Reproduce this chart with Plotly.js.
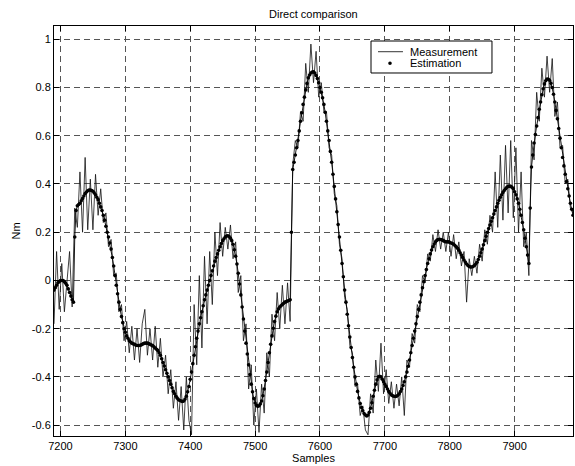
<!DOCTYPE html>
<html><head><meta charset="utf-8">
<script src="https://cdn.plot.ly/plotly-3.0.1.min.js"></script>
<style>html,body{margin:0;padding:0;background:#fff;}#chart{width:575px;height:466px;}</style>
</head><body><div id="chart"></div>
<script>
const firstSample = 7190;
const measurementStep = 4;
const estimationStep = 2;

const measurement = [
 -0.18, 0.12, -0.12, 0.07, -0.13, -0.02, 0.12, -0.11, 0.30,
 0.22, 0.45, 0.20, 0.51, 0.21, 0.42, 0.21, 0.44, 0.27, 0.38,
 0.24, 0.28, 0.14, 0.17, 0.02, 0.03, -0.13, -0.10, -0.25, -0.17,
 -0.30, -0.19, -0.33, -0.20, -0.34, -0.18, -0.12, -0.31, -0.20, -0.33, -0.19, -0.36,
 -0.24, -0.40, -0.31, -0.47, -0.37, -0.53, -0.42, -0.58, -0.44, -0.62, -0.40, -0.58,
 -0.64, -0.10, -0.35, 0.02, -0.28, 0.10, -0.18, 0.12, -0.10, 0.20, 0.02, 0.24, 0.10, 0.22,
 0.13, 0.23, 0.09, 0.16, -0.05, 0.02, -0.25, -0.18, -0.45, -0.35, -0.60,
 -0.45, -0.63, -0.43, -0.55, -0.30, -0.40, -0.14, -0.25, -0.05, -0.20, -0.02, -0.18, -0.01, -0.17,
 0.48, 0.58, 0.55, 0.70, 0.66, 0.90, 0.78, 0.98, 0.82, 0.95, 0.76,
 0.82, 0.70, 0.70, 0.55, 0.52, 0.36, 0.31, 0.15, 0.09, -0.07, -0.12, -0.27, -0.30, -0.44, -0.43, -0.56, -0.52, -0.62,
 -0.64, -0.47, -0.55, -0.33, -0.46, -0.26, -0.47, -0.37, -0.51, -0.42, -0.53, -0.43, -0.52, -0.40, -0.56, -0.33, -0.36,
 -0.22, -0.26, -0.10, -0.13, 0.02, -0.01, 0.11, 0.08, 0.19, 0.12,
 0.21, 0.13, 0.20, 0.12, 0.20, 0.10, 0.19, 0.09, 0.16, 0.06,
 0.12, -0.09, 0.09, 0.02, 0.10, 0.03, 0.15, 0.08, 0.21, 0.15,
 0.27, 0.20, 0.45, 0.22, 0.52, 0.25, 0.56, 0.28, 0.58, 0.26,
 0.55, 0.20, 0.45, 0.14, 0.20, 0.02,
 0.58, 0.50, 0.78, 0.66, 0.88, 0.76, 0.93, 0.78, 0.92, 0.68, 0.74, 0.55, 0.56, 0.40, 0.42, 0.30, 0.28
];

const estimation = [
 -0.04, -0.03, -0.02, -0.01, -0.005, 0.0, 0.0, 0.0, -0.005, -0.012,
 -0.02, -0.035, -0.05, -0.065, -0.08, -0.09, 0.18, 0.29, 0.31, 0.315,
 0.32, 0.33, 0.34, 0.35, 0.36, 0.367, 0.372, 0.375, 0.375, 0.373,
 0.37, 0.363, 0.355, 0.345, 0.335, 0.32, 0.305, 0.29, 0.27, 0.25,
 0.225, 0.2, 0.18, 0.155, 0.13, 0.095, 0.06, 0.02, -0.02, -0.055,
 -0.09, -0.12, -0.15, -0.175, -0.20, -0.215, -0.23, -0.24, -0.25, -0.255,
 -0.26, -0.263, -0.265, -0.268, -0.27, -0.27, -0.27, -0.268, -0.265, -0.262,
 -0.26, -0.26, -0.26, -0.262, -0.265, -0.268, -0.27, -0.275, -0.28, -0.285,
 -0.29, -0.3, -0.31, -0.325, -0.34, -0.355, -0.37, -0.385, -0.40, -0.415,
 -0.43, -0.445, -0.46, -0.47, -0.48, -0.488, -0.495, -0.498, -0.50, -0.502,
 -0.50, -0.492, -0.48, -0.462, -0.44, -0.41, -0.38, -0.345, -0.31, -0.275,
 -0.24, -0.21, -0.18, -0.155, -0.13, -0.105, -0.08, -0.06, -0.04, -0.02,
 0.0, 0.02, 0.04, 0.06, 0.08, 0.095, 0.11, 0.125, 0.14, 0.153,
 0.165, 0.173, 0.18, 0.184, 0.185, 0.182, 0.175, 0.165, 0.15, 0.127,
 0.10, 0.068, 0.03, -0.015, -0.06, -0.11, -0.16, -0.21, -0.26, -0.305,
 -0.35, -0.39, -0.43, -0.462, -0.49, -0.508, -0.518, -0.522, -0.52, -0.512,
 -0.50, -0.478, -0.45, -0.415, -0.38, -0.34, -0.30, -0.265, -0.23, -0.198,
 -0.17, -0.148, -0.13, -0.118, -0.11, -0.105, -0.10, -0.095, -0.09, -0.088,
 -0.085, -0.083, -0.08, 0.2, 0.46, 0.49, 0.52, 0.55, 0.58, 0.62,
 0.66, 0.695, 0.73, 0.76, 0.79, 0.817, 0.84, 0.852, 0.86, 0.864,
 0.865, 0.86, 0.85, 0.837, 0.82, 0.80, 0.78, 0.757, 0.73, 0.697,
 0.66, 0.62, 0.58, 0.535, 0.49, 0.44, 0.39, 0.338, 0.285, 0.232,
 0.18, 0.125, 0.07, 0.015, -0.04, -0.09, -0.14, -0.188, -0.235, -0.278,
 -0.32, -0.36, -0.40, -0.43, -0.46, -0.487, -0.51, -0.527, -0.54, -0.552,
 -0.558, -0.562, -0.558, -0.547, -0.53, -0.507, -0.48, -0.455, -0.43, -0.412,
 -0.40, -0.397, -0.40, -0.41, -0.42, -0.43, -0.44, -0.45, -0.46, -0.468,
 -0.475, -0.478, -0.48, -0.481, -0.48, -0.476, -0.47, -0.461, -0.45, -0.436,
 -0.42, -0.40, -0.38, -0.356, -0.33, -0.30, -0.27, -0.24, -0.21, -0.18,
 -0.15, -0.12, -0.09, -0.06, -0.03, -0.005, 0.02, 0.045, 0.07, 0.09,
 0.11, 0.126, 0.14, 0.151, 0.16, 0.166, 0.17, 0.171, 0.17, 0.168,
 0.165, 0.162, 0.16, 0.16, 0.16, 0.158, 0.155, 0.153, 0.15, 0.145,
 0.14, 0.133, 0.125, 0.115, 0.105, 0.095, 0.085, 0.076, 0.068, 0.062,
 0.058, 0.056, 0.056, 0.058, 0.062, 0.068, 0.075, 0.087, 0.10, 0.115,
 0.13, 0.148, 0.165, 0.183, 0.20, 0.215, 0.23, 0.245, 0.26, 0.275,
 0.29, 0.305, 0.32, 0.333, 0.345, 0.355, 0.365, 0.373, 0.38, 0.386,
 0.39, 0.391, 0.39, 0.386, 0.38, 0.368, 0.355, 0.338, 0.32, 0.295,
 0.27, 0.24, 0.21, 0.175, 0.14, 0.105, 0.07, 0.30, 0.47, 0.52,
 0.57, 0.605, 0.64, 0.675, 0.71, 0.74, 0.77, 0.795, 0.815, 0.828,
 0.835, 0.834, 0.83, 0.818, 0.80, 0.772, 0.74, 0.705, 0.67, 0.63,
 0.59, 0.55, 0.51, 0.475, 0.44, 0.41, 0.38, 0.35, 0.32, 0.295,
 0.27
];

const xTickVals = [7200, 7300, 7400, 7500, 7600, 7700, 7800, 7900];
const xTickText = ['7200', '7300', '7400', '7500', '7600', '7700', '7800', '7900'];
const yTickVals = [-0.6, -0.4, -0.2, 0, 0.2, 0.4, 0.6, 0.8, 1];
const yTickText = ['-0.6', '-0.4', '-0.2', '0', '0.2', '0.4', '0.6', '0.8', '1'];
const seriesNames = ['Measurement', 'Estimation'];

const measurementSamples = measurement.map((_, i) => firstSample + i * measurementStep);
const estimationSamples = estimation.map((_, i) => firstSample + i * estimationStep);

const FONT = 'Arial, "Liberation Sans", Helvetica, sans-serif';

const traces = [
  {x: measurementSamples, y: measurement, type: 'scatter', mode: 'lines', name: seriesNames[0],
   line: {color: '#111', width: 0.8}, showlegend: false},
  {x: estimationSamples, y: estimation, type: 'scatter', mode: 'lines+markers', name: seriesNames[1],
   line: {color: '#000', width: 0.9}, marker: {color: '#000', size: 3.6}, showlegend: false}
];

const axisCommon = {
  showline: true, linecolor: '#000', linewidth: 1, mirror: 'ticks',
  ticks: 'inside', ticklen: 5, tickcolor: '#000', tickwidth: 1,
  showgrid: true, gridcolor: '#555', gridwidth: 1, griddash: '6px,4px',
  zeroline: false, tickfont: {family: FONT, size: 11, color: '#000'}
};

const lg = {x0: 0.6108, x1: 0.8439, y0: 0.8854, y1: 0.9634};
const layout = {
  width: 575, height: 466,
  margin: {l: 54, r: 2, t: 26, b: 30},
  paper_bgcolor: '#fff', plot_bgcolor: '#fff',
  font: {family: FONT, size: 11, color: '#000'},
  title: {text: 'Direct comparison', x: 0.545, xanchor: 'center', y: 0.969, yanchor: 'middle',
          font: {family: FONT, size: 11, color: '#000'}},
  xaxis: Object.assign({}, axisCommon, {
    range: [7190, 7990], tickmode: 'array', tickvals: xTickVals, ticktext: xTickText,
    title: {text: 'Samples', standoff: 0, font: {family: FONT, size: 11, color: '#000'}}
  }),
  yaxis: Object.assign({}, axisCommon, {
    range: [-0.645, 1.055], tickmode: 'array', tickvals: yTickVals, ticktext: yTickText,
    title: {text: 'Nm', standoff: 8, font: {family: FONT, size: 11, color: '#000'}}
  }),
  shapes: [
    {type: 'rect', xref: 'paper', yref: 'paper', x0: lg.x0, x1: lg.x1, y0: lg.y0, y1: lg.y1,
     line: {color: '#000', width: 1}, fillcolor: '#fff', layer: 'above'},
    {type: 'line', xref: 'paper', yref: 'paper', x0: 0.6243, x1: 0.6724, y0: 0.9373, y1: 0.9373,
     line: {color: '#000', width: 0.8}, layer: 'above'},
    {type: 'circle', xref: 'paper', yref: 'paper', xsizemode: 'pixel', ysizemode: 'pixel',
     xanchor: 0.6474, yanchor: 0.909, x0: -1.8, x1: 1.8, y0: -1.8, y1: 1.8,
     fillcolor: '#000', line: {color: '#000', width: 0}, layer: 'above'}
  ],
  annotations: [
    {xref: 'paper', yref: 'paper', x: 0.6815, y: 0.9373, xanchor: 'left', yanchor: 'middle',
     text: seriesNames[0], showarrow: false, font: {family: FONT, size: 11, color: '#000'}},
    {xref: 'paper', yref: 'paper', x: 0.6815, y: 0.909, xanchor: 'left', yanchor: 'middle',
     text: seriesNames[1], showarrow: false, font: {family: FONT, size: 11, color: '#000'}}
  ]
};

Plotly.newPlot('chart', traces, layout, {staticPlot: true, displayModeBar: false});
</script>
</body></html>
